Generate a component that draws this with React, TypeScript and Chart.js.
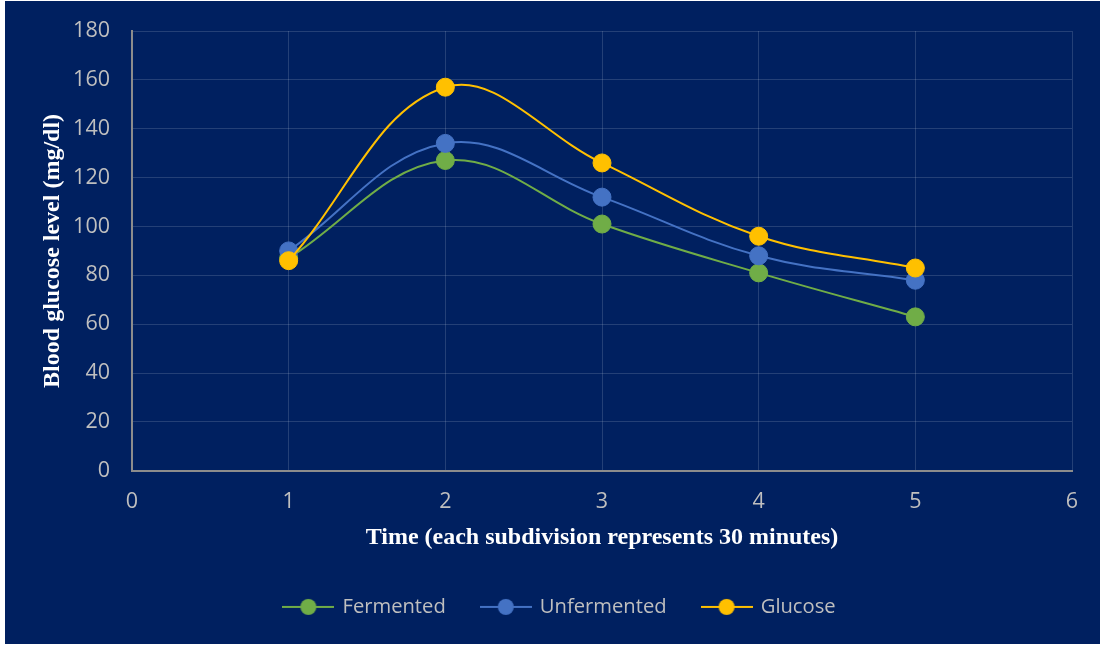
import React, { useEffect, useRef } from "react";
import { Chart, registerables } from "chart.js";

Chart.register(...registerables);

// ---- Data ----
const timePoints = [1, 2, 3, 4, 5];
const fermented = [87, 127, 101, 81, 63];
const unfermented = [90, 134, 112, 88, 78];
const glucose = [86, 157, 126, 96, 83];
const seriesNames = ["Fermented", "Unfermented", "Glucose"];
const seriesColors = ["#70ad47", "#4472c4", "#ffc000"];
const xMin = 0;
const xMax = 6;
const yMin = 0;
const yMax = 180;
const yStep = 20;
const xAxisTitle = "Time (each subdivision represents 30 minutes)";
const yAxisTitle = "Blood glucose level (mg/dl)";

const NAVY = "#002060";
const TEXT = "#bfbfbf";
const GRID = "rgba(200,210,230,0.18)";
const AXIS = "#8c8c8c";

function makeMarker(color: string): HTMLCanvasElement {
  const c = document.createElement("canvas");
  c.width = 52;
  c.height = 20;
  const ctx = c.getContext("2d")!;
  ctx.strokeStyle = color;
  ctx.lineWidth = 2;
  ctx.beginPath();
  ctx.moveTo(0, 10);
  ctx.lineTo(52, 10);
  ctx.stroke();
  ctx.fillStyle = color;
  ctx.beginPath();
  ctx.arc(26, 10, 8, 0, Math.PI * 2);
  ctx.fill();
  return c;
}

const backgroundPlugin = {
  id: "bgPanel",
  beforeDraw(chart: any) {
    const { ctx, width, height } = chart;
    ctx.save();
    ctx.fillStyle = "#ffffff";
    ctx.fillRect(0, 0, width, height);
    ctx.fillStyle = NAVY;
    ctx.fillRect(5, 1, 1095, 643);
    ctx.restore();
  },
};

export default function App() {
  const canvasRef = useRef<HTMLCanvasElement | null>(null);

  useEffect(() => {
    const canvas = canvasRef.current;
    if (!canvas) return;
    const seriesValues = [fermented, unfermented, glucose];
    const datasets = seriesNames.map((name, i) => ({
      label: name,
      data: timePoints.map((t, j) => ({ x: t, y: seriesValues[i][j] })),
      borderColor: seriesColors[i],
      backgroundColor: seriesColors[i],
      pointBackgroundColor: seriesColors[i],
      pointBorderColor: seriesColors[i],
      borderWidth: 2,
      pointRadius: 9,
      pointBorderWidth: 1,
      pointStyle: "circle",
      tension: 0.38,
      fill: false,
      order: seriesNames.length - 1 - i,
    }));
    const markers = seriesColors.map((c) => makeMarker(c));

    const chart = new Chart(canvas, {
      type: "line",
      data: { datasets },
      plugins: [backgroundPlugin],
      options: {
        animation: false,
        responsive: false,
        devicePixelRatio: 1,
        layout: { autoPadding: false, padding: { left: 48, right: 31, top: 31, bottom: 19 } },
        plugins: {
          tooltip: { enabled: false },
          legend: {
            position: "bottom",
            align: "center",
            labels: {
              usePointStyle: true,
              pointStyleWidth: 48,
              padding: 36,
              color: TEXT,
              font: { family: "'Open Sans', sans-serif", size: 20.2 },
              sort: (a: any, b: any) => a.datasetIndex - b.datasetIndex,
              generateLabels: (ch: any) => {
                const items = Chart.defaults.plugins.legend.labels.generateLabels(ch);
                return items.map((it: any) => ({
                  ...it,
                  pointStyle: markers[it.datasetIndex],
                  fontColor: TEXT,
                }));
              },
            },
          },
        },
        scales: {
          x: {
            type: "linear",
            min: xMin,
            max: xMax,
            afterFit: (scale: any) => {
              scale.height = 90;
            },
            ticks: {
              stepSize: 1,
              padding: 18,
              color: TEXT,
              font: { family: "'Open Sans', sans-serif", size: 21.5 },
            },
            grid: { color: GRID, lineWidth: 1, drawTicks: false },
            border: { color: AXIS, width: 2 },
            title: {
              display: true,
              text: xAxisTitle,
              color: "#ffffff",
              font: { family: "'Liberation Serif', 'Times New Roman', serif", size: 24, weight: "bold" },
              padding: { top: 0, bottom: 8.6 },
            },
          },
          y: {
            type: "linear",
            min: yMin,
            max: yMax,
            afterFit: (scale: any) => {
              scale.width = 84;
              scale.paddingTop = 0;
              scale.paddingBottom = 0;
            },
            ticks: {
              stepSize: yStep,
              padding: 22,
              color: TEXT,
              font: { family: "'Open Sans', sans-serif", size: 21.5 },
            },
            grid: { color: GRID, lineWidth: 1, drawTicks: false },
            border: { color: AXIS, width: 2 },
            title: {
              display: true,
              text: yAxisTitle,
              color: "#ffffff",
              font: { family: "'Liberation Serif', 'Times New Roman', serif", size: 24, weight: "bold" },
              padding: { top: -9.4, bottom: 0 },
            },
          },
        },
      },
    } as any);

    return () => {
      chart.destroy();
    };
  }, []);

  return (
    <div style={{ position: "fixed", left: 0, top: 0, width: 1103, height: 646 }}>
      <canvas ref={canvasRef} width={1103} height={646} style={{ display: "block", width: 1103, height: 646 }} />
    </div>
  );
}
